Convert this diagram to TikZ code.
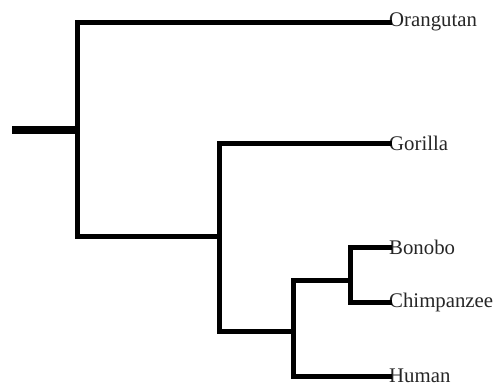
\documentclass[tikz,border=0pt]{standalone}
\usepackage{fontspec}
\setmainfont{Liberation Serif}
\begin{document}
\begin{tikzpicture}[x=1pt,y=-1pt,
  branch/.style={line width=5pt,line cap=rect,line join=miter},
  stem/.style={line width=7.5pt},
  leaf/.style={anchor=west,inner sep=0pt,font=\fontsize{20.8}{23}\selectfont,text=black!85}]
\useasboundingbox (0,0) rectangle (496,389);
\coordinate (root) at (12,130);
\coordinate (n1) at (77,130);
\coordinate (n2) at (219,236);
\coordinate (n3) at (293,331);
\coordinate (n4) at (350,280);
\node[leaf] (orang) at (389,22) {Orangutan};
\node[leaf] (gor) at (389,143) {Gorilla};
\node[leaf] (bon) at (389,247) {Bonobo};
\node[leaf] (chimp) at (389,302) {Chimpanzee};
\node[leaf] (hum) at (389,376) {Human};
\draw[stem] (root) -- (n1);
\draw[branch] (orang.west) -- (orang.west -| n1) -- (n2 -| n1) -- (n2);
\draw[branch] (gor.west) -- (gor.west -| n2) -- (n3 -| n2) -- (n3);
\draw[branch] (n4) -- (n4 -| n3);
\draw[branch] (hum.west) -- (hum.west -| n3) -- (n4 -| n3);
\draw[branch] (bon.west) -- (bon.west -| n4) -- (chimp.west -| n4) -- (chimp.west);
\end{tikzpicture}
\end{document}
